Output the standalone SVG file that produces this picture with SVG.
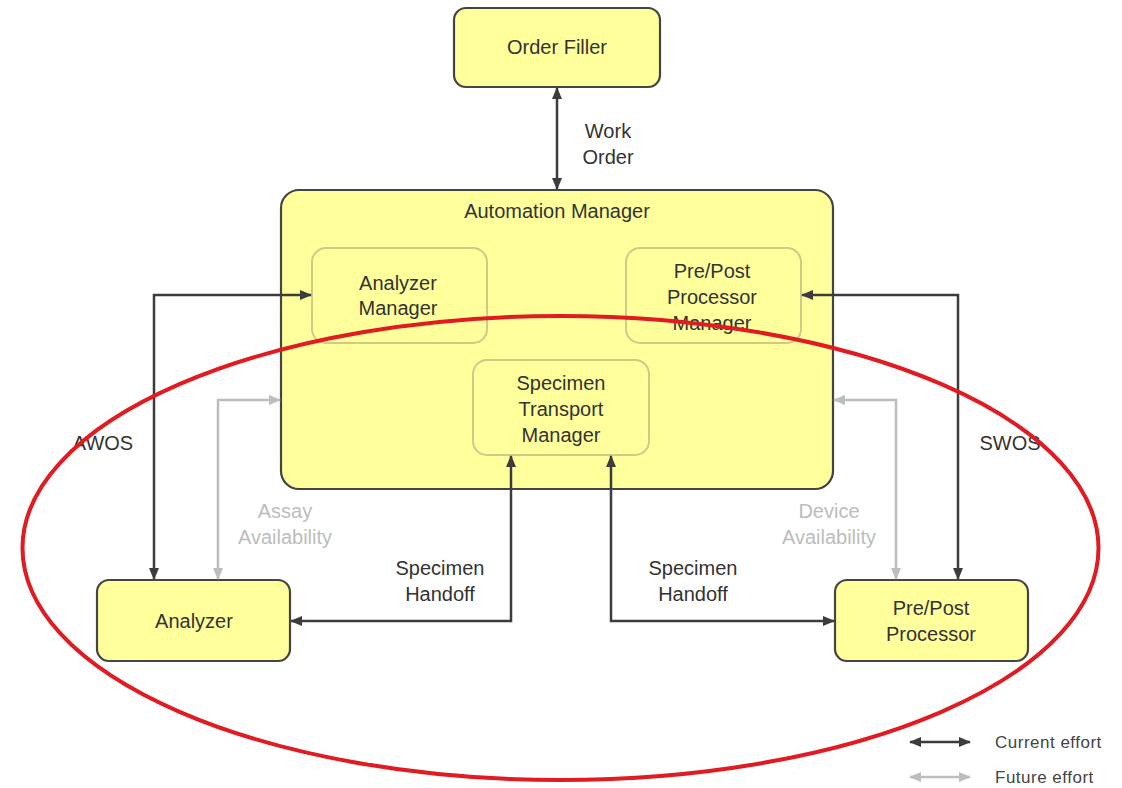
<svg xmlns="http://www.w3.org/2000/svg" width="1122" height="788" viewBox="0 0 1122 788">
<style>
.box{fill:#ffff9c;stroke:#444;stroke-width:2.2}
.inner{fill:#ffff9c;stroke:#cfc98a;stroke-width:2}
.t{font-family:"Liberation Sans",Arial,sans-serif;font-size:20px;fill:#333;text-anchor:middle}
.g{fill:#bcbcbc}
.lg{font-family:"Liberation Sans",Arial,sans-serif;font-size:17px;letter-spacing:0.5px;fill:#444}
.cur{fill:none;stroke:#3c3c3c;stroke-width:2.5;marker-start:url(#ad);marker-end:url(#ad)}
.fut{fill:none;stroke:#bdbdbd;stroke-width:2.5;marker-start:url(#ag);marker-end:url(#ag)}
</style>
<defs>
<marker id="ad" markerUnits="userSpaceOnUse" markerWidth="12" markerHeight="10" refX="11" refY="5" orient="auto-start-reverse"><path d="M0,0 L12,5 L0,10 z" fill="#3c3c3c"/></marker>
<marker id="ag" markerUnits="userSpaceOnUse" markerWidth="12" markerHeight="10" refX="11" refY="5" orient="auto-start-reverse"><path d="M0,0 L12,5 L0,10 z" fill="#bdbdbd"/></marker>
</defs>
<rect width="1122" height="788" fill="#fff"/>
<g id="order-filler"><rect class="box" x="454" y="8" width="206" height="79" rx="12"/><text class="t" x="557" y="54">Order Filler</text></g>
<g id="automation-manager"><rect class="box" x="281" y="190" width="552" height="299" rx="18"/><text class="t" x="557" y="218">Automation Manager</text></g>
<g id="analyzer-manager"><rect class="inner" x="312" y="248" width="175" height="95" rx="14"/><text class="t" x="398" y="290">Analyzer</text><text class="t" x="398" y="315">Manager</text></g>
<g id="prepost-manager"><rect class="inner" x="626" y="248" width="175" height="95" rx="14"/><text class="t" x="712" y="278">Pre/Post</text><text class="t" x="712" y="304">Processor</text><text class="t" x="712" y="330">Manager</text></g>
<g id="specimen-transport-manager"><rect class="inner" x="473" y="360" width="176" height="95" rx="14"/><text class="t" x="561" y="390">Specimen</text><text class="t" x="561" y="416">Transport</text><text class="t" x="561" y="442">Manager</text></g>
<g id="analyzer"><rect class="box" x="97" y="580" width="193" height="81" rx="12"/><text class="t" x="194" y="628">Analyzer</text></g>
<g id="prepost-processor"><rect class="box" x="835" y="580" width="193" height="81" rx="12"/><text class="t" x="931" y="615">Pre/Post</text><text class="t" x="931" y="641">Processor</text></g>
<g id="connectors">
<path class="cur" d="M557,88 L557,189"/>
<text class="t" x="608" y="138">Work</text><text class="t" x="608" y="164">Order</text>
<path class="cur" d="M311,295 L154,295 L154,579"/>
<text class="t" x="103" y="450">AWOS</text>
<path class="fut" d="M280,400 L218,400 L218,579"/>
<text class="t g" x="285" y="518">Assay</text><text class="t g" x="285" y="544">Availability</text>
<path class="cur" d="M511,456 L511,621 L291,621"/>
<text class="t" x="440" y="575">Specimen</text><text class="t" x="440" y="601">Handoff</text>
<path class="cur" d="M611,456 L611,621 L834,621"/>
<text class="t" x="693" y="575">Specimen</text><text class="t" x="693" y="601">Handoff</text>
<path class="fut" d="M834,400 L896,400 L896,579"/>
<text class="t g" x="829" y="518">Device</text><text class="t g" x="829" y="544">Availability</text>
<path class="cur" d="M802,295 L958,295 L958,579"/>
<text class="t" x="1010" y="450">SWOS</text>
</g>
<g id="legend">
<path class="cur" d="M910,742 L970,742"/>
<text class="lg" x="995" y="748">Current effort</text>
<path class="fut" d="M910,777 L970,777"/>
<text class="lg" x="995" y="783">Future effort</text>
</g>
<ellipse cx="560.5" cy="548" rx="538" ry="232" fill="none" stroke="#e01b22" stroke-width="4"/>
</svg>
